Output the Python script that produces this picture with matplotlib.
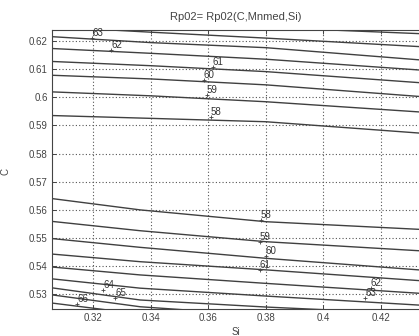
import numpy as np
import matplotlib
matplotlib.use("Agg")
import matplotlib.pyplot as plt

plt.rcParams['font.family'] = ['Liberation Sans', 'DejaVu Sans']

si_cols = [0.3058, 0.34, 0.38, 0.433]

# upper family of contour lines (C values at each Si column)
upper_levels = [58, 59, 60, 61, 62, 63, 64, 65]
upper_c_left = [0.5935, 0.6019, 0.6078, 0.6127, 0.6173, 0.6215, 0.6250, 0.6280]
upper_c_034 = [0.5925, 0.6005, 0.6065, 0.6112, 0.6156, 0.6194, 0.6231, 0.6265]
upper_c_038 = [0.5913, 0.5984, 0.6044, 0.6091, 0.6135, 0.6176, 0.6210, 0.6248]
upper_c_right = [0.5873, 0.5948, 0.6003, 0.6052, 0.6097, 0.6133, 0.6180, 0.6226]

# lower family of contour lines
lower_si_cols = [0.3058, 0.3363, 0.38, 0.433]
lower_levels = [58, 59, 60, 61, 62, 63, 64, 65, 66]
lower_c_left = [0.5640, 0.5559, 0.5498, 0.5443, 0.5397, 0.5355, 0.5323, 0.5298, 0.5269]
lower_c_0336 = [0.5600, 0.5526, 0.5467, 0.5416, 0.5369, 0.5322, 0.5280, 0.5256, 0.5230]
lower_c_038 = [0.5558, 0.5487, 0.5428, 0.5387, 0.5339, 0.5294, 0.5255, 0.5225, 0.5200]
lower_c_right = [0.5531, 0.5455, 0.5387, 0.5349, 0.5304, 0.5262, 0.5230, 0.5200, 0.5170]

# contour labels: text, Si, C (bottom-left anchor)
label_text = ['63', '62', '61', '60', '59', '58',
              '58', '59', '60', '61', '62', '63', '64', '65', '66']
label_si = [0.3197, 0.3262, 0.3616, 0.3585, 0.3595, 0.3609,
            0.3782, 0.3779, 0.3800, 0.3779, 0.4164, 0.4146, 0.3235, 0.3276, 0.3145]
label_c = [0.6211, 0.6168, 0.6108, 0.6061, 0.6008, 0.5930,
           0.5564, 0.5486, 0.5436, 0.5387, 0.5323, 0.5287, 0.5315, 0.5287, 0.5266]

x_ticks = [0.32, 0.34, 0.36, 0.38, 0.40, 0.42]
x_tick_labels = ['0.32', '0.34', '0.36', '0.38', '0.4', '0.42']
y_ticks = [0.53, 0.54, 0.55, 0.56, 0.57, 0.58, 0.59, 0.60, 0.61, 0.62]
y_tick_labels = ['0.53', '0.54', '0.55', '0.56', '0.57', '0.58', '0.59', '0.6', '0.61', '0.62']

fig = plt.figure(figsize=(4.19, 3.36), dpi=100)
ax = fig.add_axes([52 / 419, 27 / 336, 1 - 52 / 419, 278.5 / 336])

line_color = '#404040'
upper_cols = np.array([upper_c_left, upper_c_034, upper_c_038, upper_c_right])
for i in range(len(upper_levels)):
    ax.plot(si_cols, upper_cols[:, i], color=line_color, lw=1.0)
lower_cols = np.array([lower_c_left, lower_c_0336, lower_c_038, lower_c_right])
for i in range(len(lower_levels)):
    ax.plot(lower_si_cols, lower_cols[:, i], color=line_color, lw=1.0)

for t, s, c in zip(label_text, label_si, label_c):
    ax.plot(s, c, marker='+', color='#444444', ms=3.5, mew=0.6)
    ax.text(s, c, t, fontsize=7, color='#333333', ha='left', va='bottom')

ax.set_xlim(0.3057, 0.4332)
ax.set_ylim(0.5248, 0.6237)
ax.set_xticks(x_ticks)
ax.set_xticklabels(x_tick_labels)
ax.set_yticks(y_ticks)
ax.set_yticklabels(y_tick_labels)
ax.tick_params(direction='in', length=3, width=0.7, labelsize=7,
               labelcolor='#444444', color='#444444', top=True, pad=3)
ax.grid(True, color='#555555', linestyle=(0, (1, 2)), lw=0.8)

for side in ['left', 'bottom', 'top']:
    ax.spines[side].set_color('#444444')
    ax.spines[side].set_linewidth(0.8)
ax.spines['right'].set_visible(False)

ax.set_xlabel('Si', fontsize=7, color='#444444')
ax.xaxis.set_label_coords(0.5, -0.066)
ax.set_ylabel('C', fontsize=7, color='#444444')
ax.yaxis.set_label_coords(-0.112, 0.492)
ax.text(0.5, 1.048, 'Rp02= Rp02(C,Mnmed,Si)', transform=ax.transAxes,
        ha='center', va='center', fontsize=8, color='#444444')

fig.savefig('out.png', dpi=100)
